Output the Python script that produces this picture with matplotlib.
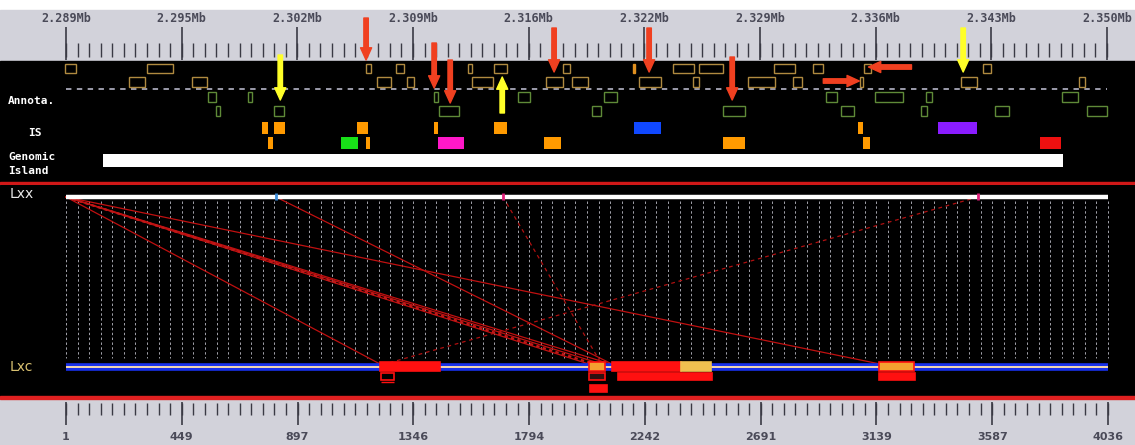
import numpy as np
import matplotlib
matplotlib.use("Agg")
from matplotlib import pyplot as plt
from matplotlib.patches import Rectangle, FancyArrowPatch

# ---- data -------------------------------------------------------------
# top ruler (kb)
kb_first, kb_last = 2288.55, 2349.57
top_labels = ["2.289Mb", "2.295Mb", "2.302Mb", "2.309Mb", "2.316Mb",
              "2.322Mb", "2.329Mb", "2.336Mb", "2.343Mb", "2.350Mb"]

# annotation boxes (start kb, end kb) per row
ann_row1 = [(2288.49, 2289.12), (2293.28, 2294.84), (2306.14, 2306.43), (2307.89, 2308.36),
            (2312.10, 2312.37), (2313.66, 2314.38), (2317.70, 2318.09), (2324.15, 2325.36),
            (2325.67, 2327.06), (2330.05, 2331.28), (2332.36, 2332.94), (2335.35, 2335.72),
            (2342.32, 2342.76)]
ann_row1_filled = [(2321.76, 2321.90)]
ann_row2 = [(2292.24, 2293.18), (2295.92, 2296.80), (2306.78, 2307.60), (2308.52, 2308.95),
            (2312.33, 2313.56), (2316.66, 2317.67), (2318.19, 2319.15), (2322.11, 2323.41),
            (2325.32, 2325.67), (2328.51, 2330.11), (2331.18, 2331.71), (2335.09, 2335.29),
            (2341.02, 2341.93), (2347.93, 2348.29)]
ann_row3 = [(2296.86, 2297.34), (2299.20, 2299.45), (2310.12, 2310.37), (2315.03, 2315.75),
            (2320.11, 2320.83), (2333.10, 2333.76), (2335.97, 2337.63), (2338.95, 2339.30),
            (2346.94, 2347.86)]
ann_row4 = [(2297.34, 2297.58), (2300.74, 2301.35), (2310.42, 2311.61), (2319.37, 2319.91),
            (2327.08, 2328.35), (2333.98, 2334.76), (2338.67, 2339.00), (2343.01, 2343.83),
            (2348.42, 2349.56)]

# IS elements (start kb, end kb, colour) per row
is_row1 = [(2300.04, 2300.37, "#ff9a00"), (2300.74, 2301.39, "#ff9a00"),
           (2305.61, 2306.25, "#ff9a00"), (2310.12, 2310.37, "#ff9a00"),
           (2313.66, 2314.38, "#ff9a00"), (2321.85, 2323.41, "#1048ff"),
           (2334.99, 2335.25, "#ff9a00"), (2339.68, 2341.97, "#8a1cff")]
is_row2 = [(2300.37, 2300.67, "#ff9a00"), (2304.65, 2305.67, "#18e018"),
           (2306.14, 2306.37, "#ff9a00"), (2310.37, 2311.88, "#ff18c8"),
           (2316.57, 2317.57, "#ff9a00"), (2327.08, 2328.35, "#ff9a00"),
           (2335.25, 2335.68, "#ff9a00"), (2345.65, 2346.86, "#ee1010")]
island = (2290.74, 2347.01)

# highlight arrows (kb, y_from, y_to)
red_down = [(2306.14, 18, 60), (2310.13, 43, 88), (2311.07, 60, 103),
            (2317.16, 28, 72), (2322.73, 28, 72), (2327.60, 57, 100)]
yellow_down = [(2301.11, 55, 100), (2341.14, 28, 72)]
yellow_up = [(2314.12, 113, 77)]
red_side = [(2338.11, 2335.59, 67), (2332.94, 2335.05, 81)]

# bottom ruler / comparison (bp)
bp_first, bp_last = 1, 4036
bottom_labels = ["1", "449", "897", "1346", "1794", "2242", "2691", "3139", "3587", "4036"]
lxx_marks = [(814, "#3c8cd8"), (1693, "#e0207a"), (3533, "#e0207a")]
links_solid = [(1, 1217), (1, 2025), (1, 2075), (1, 2110), (1, 3153), (814, 2115)]
links_dashed = [(1693, 2075), (3533, 1236)]
links_dotted = [(1, 2045)]
lxc_lane0 = [(1217, 1449, "#ff1010", "#ff1010"), (2025, 2088, "#f4a030", "#ff1010"),
             (2115, 2382, "#ff1010", "#ff1010"), (2382, 2500, "#f0c050", "#f0c050"),
             (3151, 3285, "#f4a030", "#ff1010")]
lxc_lane1 = [(1221, 1271, "none", "#ff1010"), (2025, 2088, "#301010", "#ff1010"),
             (2137, 2504, "#ff1010", "#ff1010"), (3151, 3288, "#ff1010", "#ff1010")]
lxc_lane2 = [(2029, 2095, "#ff1010", "#ff1010")]

# ---- figure -----------------------------------------------------------
W, H = 1135, 445
fig = plt.figure(figsize=(W / 100, H / 100), dpi=100)
fig.patch.set_facecolor("white")

# pixel scales so that both rulers land on the same pixels
kb_px = (1107 - 66) / (kb_last - kb_first)
bp_px = (1108 - 66) / (bp_last - bp_first)

top = fig.add_axes([0, 1 - 185 / H, 1, 185 / H])
top.set_xlim(kb_first - 66 / kb_px, kb_first + (W - 66) / kb_px)
top.set_ylim(185, 0)
top.axis("off")

bot = fig.add_axes([0, 0, 1, 260 / H])
bot.set_xlim(bp_first - 66 / bp_px, bp_first + (W - 66) / bp_px)
bot.set_ylim(445, 185)
bot.axis("off")

# backgrounds
top.axhspan(10, 61, color="#d2d2da", zorder=0)
top.axhspan(61, 185, color="black", zorder=0)
top.axhspan(182, 185, color="#d01818", zorder=1)
bot.axhspan(185, 397, color="black", zorder=0)
bot.axhspan(396, 399, color="#e02020", zorder=1)
bot.axhspan(399, 445, color="#d2d2da", zorder=0)

# top ruler
major = np.linspace(kb_first, kb_last, 10)
minor = np.linspace(kb_first, kb_last, 91)
top.vlines(minor, 43, 57, color="#3a3a44", lw=1.0)
top.vlines(major, 27, 60, color="#3a3a44", lw=1.2)
for x, lab in zip(major, top_labels):
    top.text(x, 18, lab, ha="center", va="center", fontsize=8.5, color="#4a4a58",
             family="DejaVu Sans Mono", weight="bold")

# annotation rows
def boxes(items, y0, h, ec, fc="none", lw=1.0):
    for s, e in items:
        top.add_patch(Rectangle((s, y0), e - s, h, fc=fc, ec=ec, lw=lw, zorder=3))

boxes(ann_row1, 63.5, 9.5, "#b08a40")
boxes(ann_row1_filled, 63.5, 9.5, "#e09020", fc="#e09020")
boxes(ann_row2, 77, 9.5, "#b08a40")
top.hlines(89, kb_first, kb_last, color="#a8a8b8", lw=1.3, linestyles=(0, (3, 3)), zorder=2)
boxes(ann_row3, 92, 9.5, "#5f8a38")
boxes(ann_row4, 106, 10, "#5f8a38")

for s, e, c in is_row1:
    top.add_patch(Rectangle((s, 122), e - s, 12, fc=c, ec="none", zorder=3))
for s, e, c in is_row2:
    top.add_patch(Rectangle((s, 137), e - s, 12, fc=c, ec="none", zorder=3))
top.add_patch(Rectangle((island[0], 154), island[1] - island[0], 12.5,
                        fc="white", ec="none", zorder=3))

lab_kw = dict(color="white", fontsize=8, family="DejaVu Sans Mono", weight="bold",
              va="center", ha="left", transform=top.transData)
xl = kb_first - 58 / kb_px
top.text(xl, 101, "Annota.", **lab_kw)
top.text(kb_first - 38 / kb_px, 133, "IS", **lab_kw)
top.text(xl, 157.5, "Genomic", **lab_kw)
top.text(xl, 171, "Island", **lab_kw)

# arrows
def arrow(p0, p1, color):
    top.add_patch(FancyArrowPatch(p0, p1, arrowstyle="simple,head_width=1.0,head_length=1.1,tail_width=0.4",
                                  mutation_scale=8, color=color, shrinkA=0, shrinkB=0, zorder=5))

for x, y0, y1 in red_down:
    arrow((x, y0), (x, y1), "#f04020")
for x, y0, y1 in yellow_down + yellow_up:
    arrow((x, y0), (x, y1), "#ffff28")
for x0, x1, y in red_side:
    arrow((x0, y), (x1, y), "#f04020")

# comparison panel
grid_x = np.linspace(bp_first, bp_last, 91)
bot.vlines(grid_x, 201, 358, color="#a4a4ac", lw=0.7, linestyles=(0, (2.5, 2.5)), zorder=1)

bot.hlines(197, bp_first, bp_last, color="white", lw=3.2, zorder=3)
for x, c in lxx_marks:
    bot.vlines(x, 193.5, 200.5, color=c, lw=2, zorder=4)

bot.hlines(367, bp_first, bp_last, color="#1830e8", lw=5.5, zorder=3)
bot.hlines(367, bp_first, bp_last, color="#f4d8b0", lw=1.4, zorder=3)

for a, b in links_solid:
    bot.plot([a, b], [197, 364], color="#c01010", lw=0.9, zorder=2)
for a, b in links_dashed:
    bot.plot([a, b], [197, 364], color="#b01010", lw=0.9, ls=(0, (3, 3)), zorder=2)
for a, b in links_dotted:
    bot.plot([a, b], [197, 364], color="#c01818", lw=1.6, ls=(0, (1.5, 1.5)), zorder=2)

for lane, (y0, h) in zip([lxc_lane0, lxc_lane1, lxc_lane2], [(362.5, 8.5), (373, 7.5), (385, 7.5)]):
    for s, e, fc, ec in lane:
        bot.add_patch(Rectangle((s, y0), e - s, h, fc=fc, ec=ec, lw=1.2, zorder=4))
bot.hlines(382.5, 1221, 1271, color="#ff1010", lw=1, zorder=4)

bot.text(bp_first - 56 / bp_px, 194, "Lxx", color="#e8e8e8", fontsize=10, va="center")
bot.text(bp_first - 56 / bp_px, 367, "Lxc", color="#d8c070", fontsize=10, va="center")

# bottom ruler
bmajor = np.linspace(bp_first, bp_last, 10)
bminor = np.linspace(bp_first, bp_last, 91)
bot.vlines(bminor, 403, 415, color="#3a3a44", lw=1.0)
bot.vlines(bmajor, 402, 425, color="#3a3a44", lw=1.2)
for x, lab in zip(bmajor, bottom_labels):
    bot.text(x, 437, lab, ha="center", va="center", fontsize=8, color="#4a4a58",
             family="Liberation Sans Narrow", weight="bold")

fig.savefig("out.png", dpi=100, facecolor=fig.get_facecolor())
